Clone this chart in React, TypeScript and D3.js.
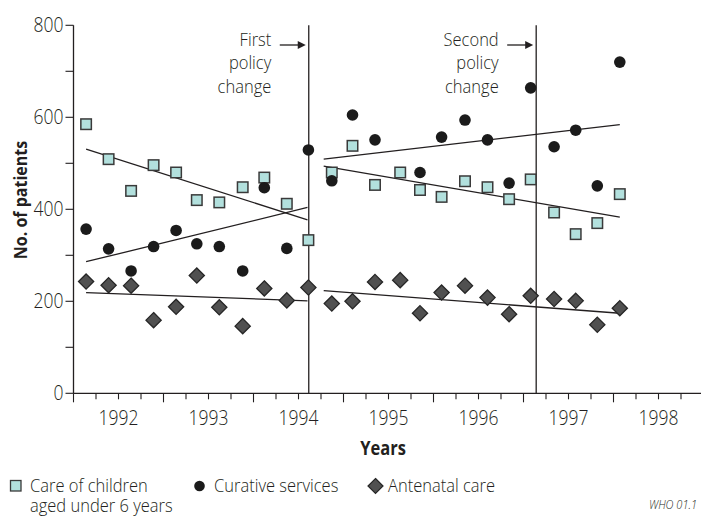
import React from "react";
import * as d3 from "d3";

// ---- data ----
const TIMES = [
  1992.14, 1992.39, 1992.64, 1992.89, 1993.14, 1993.37, 1993.62, 1993.88,
  1994.12, 1994.37, 1994.61, 1994.87, 1995.1, 1995.35, 1995.63, 1995.85,
  1996.09, 1996.35, 1996.6, 1996.84, 1997.08, 1997.34, 1997.58, 1997.82, 1998.07,
];
const CHILD_CARE = [
  585, 509, 440, 496, 480, 420, 415, 448, 469, 412, 333, 480, 538, 453, 480,
  442, 427, 461, 448, 422, 465, 393, 346, 370, 433,
];
const CURATIVE: (number | null)[] = [
  357, 314, 266, 319, 354, 325, 319, 266, 447, 315, 529, 462, 605, 551, null,
  480, 557, 594, 551, 457, 664, 536, 572, 451, 720,
];
const ANTENATAL = [
  243, 235, 234, 159, 188, 256, 187, 146, 228, 202, 230, 195, 200, 242, 246,
  174, 219, 234, 208, 172, 212, 205, 201, 149, 185,
];
// trend segments: [t0, v0, t1, v1]
const CHILD_TREND = [
  [1992.14, 531, 1994.6, 377],
  [1994.78, 494, 1998.07, 383],
];
const CURATIVE_TREND = [
  [1992.14, 286, 1994.6, 404],
  [1994.78, 509, 1998.07, 584],
];
const ANTENATAL_TREND = [
  [1992.14, 219, 1994.6, 201],
  [1994.78, 223, 1998.07, 174],
];
const POLICY_TIMES = [1994.614, 1997.141];
const POLICY_LABELS = [
  ["First", "policy", "change"],
  ["Second", "policy", "change"],
];
const YEARS = [1992, 1993, 1994, 1995, 1996, 1997, 1998];
const Y_LABEL_TICKS = [0, 200, 400, 600, 800];
const Y_MINOR_TICKS = [0, 100, 200, 300, 400, 500, 600, 700, 800];
const LEGEND = ["Care of children", "Curative services", "Antenatal care"];

const W = 701;
const H = 518;
const FONT = "'Open Sans', 'DejaVu Sans', sans-serif";
const INK = "#231f20";
const SQ_FILL = "#b2e0dd";
const SQ_STROKE = "#3a3a3a";
const DIA_FILL = "#505050";
const DIA_STROKE = "#262626";
const DOT_FILL = "#1b1b1b";
const STRETCH = 1.14;

function T(props: {
  x: number;
  y: number;
  size: number;
  anchor?: string;
  weight?: string | number;
  italic?: boolean;
  rotate?: number;
  children: React.ReactNode;
}) {
  const { x, y, size, anchor = "start", weight = 300, italic, rotate = 0, children } = props;
  return (
    <text
      transform={`translate(${x},${y}) rotate(${rotate}) scale(1,${STRETCH})`}
      textAnchor={anchor as any}
      fontSize={size}
      fontWeight={weight}
      fontStyle={italic ? "italic" : "normal"}
      fill={INK}
    >
      {children}
    </text>
  );
}

export default function App() {
  const x = d3.scaleLinear().domain([1992, 1999]).range([73.5, 703.5]);
  const y = d3.scaleLinear().domain([0, 800]).range([393.3, 25.3]);
  const quarters = d3.range(1992, 1999.001, 0.25);
  const line = d3
    .line<[number, number]>()
    .x((d) => x(d[0]))
    .y((d) => y(d[1]));
  const seg = (s: number[]) => line([[s[0], s[1]], [s[2], s[3]]]) || "";
  const sq = 10.5;
  const dia = 7.6;
  const diamondPath = (cx: number, cy: number, r: number) =>
    `M${cx},${cy - r}L${cx + r},${cy}L${cx},${cy + r}L${cx - r},${cy}Z`;

  return (
    <svg
      width={W}
      height={H}
      style={{ position: "absolute", left: 0, top: 0, background: "#fff" }}
      fontFamily={FONT}
    >
      {/* axes */}
      <line x1={x(1992)} x2={x(1992)} y1={y(800)} y2={y(0)} stroke={INK} strokeWidth={1.3} />
      <line x1={x(1992)} x2={W} y1={y(0)} y2={y(0)} stroke={INK} strokeWidth={1.3} />
      {Y_MINOR_TICKS.map((v) => (
        <line key={"yt" + v} x1={x(1992) - 8} x2={x(1992)} y1={y(v)} y2={y(v)} stroke={INK} strokeWidth={1.1} />
      ))}
      {Y_LABEL_TICKS.map((v) => (
        <T key={"yl" + v} x={x(1992) - 10} y={y(v) + 7} size={17.5} anchor="end">
          {v}
        </T>
      ))}
      {quarters.map((q) => {
        const major = Math.abs(q - Math.round(q)) < 1e-6;
        return (
          <line key={"xt" + q} x1={x(q)} x2={x(q)} y1={y(0)} y2={y(0) + (major ? 9 : 6)} stroke={INK} strokeWidth={1.1} />
        );
      })}
      {YEARS.map((yr) => (
        <T key={"xl" + yr} x={x(yr + 0.5)} y={425} size={17.5} anchor="middle">
          {yr}
        </T>
      ))}
      <T x={383} y={455} size={16.5} anchor="middle" weight="bold">
        Years
      </T>
      <T x={27} y={200} size={16} anchor="middle" weight="bold" rotate={-90}>
        No. of patients
      </T>

      {/* policy change lines and labels */}
      {POLICY_TIMES.map((t, i) => (
        <g key={"p" + i}>
          <line x1={x(t)} x2={x(t)} y1={y(800)} y2={y(0)} stroke={INK} strokeWidth={1.3} />
          {POLICY_LABELS[i].map((s, j) => (
            <T key={j} x={x(t) - 37.5} y={45.7 + j * 23.6} size={16.5} anchor="end">
              {s}
            </T>
          ))}
          <line x1={x(t) - 29} x2={x(t) - 10} y1={45} y2={45} stroke={INK} strokeWidth={1.3} />
          <path d={`M${x(t) - 3},45L${x(t) - 11},41L${x(t) - 11},49Z`} fill={INK} />
        </g>
      ))}

      {/* trend lines */}
      {[...CHILD_TREND, ...CURATIVE_TREND, ...ANTENATAL_TREND].map((s, i) => (
        <path key={"tr" + i} d={seg(s)} stroke={INK} strokeWidth={1.3} fill="none" />
      ))}

      {/* markers */}
      {CHILD_CARE.map((v, i) => (
        <rect key={"sq" + i} x={x(TIMES[i]) - sq / 2} y={y(v) - sq / 2} width={sq} height={sq} fill={SQ_FILL} stroke={SQ_STROKE} strokeWidth={1.5} />
      ))}
      {ANTENATAL.map((v, i) => (
        <path key={"di" + i} d={diamondPath(x(TIMES[i]), y(v), dia)} fill={DIA_FILL} stroke={DIA_STROKE} strokeWidth={1.3} />
      ))}
      {CURATIVE.map((v, i) =>
        v == null ? null : <circle key={"c" + i} cx={x(TIMES[i])} cy={y(v)} r={5.8} fill={DOT_FILL} />
      )}

      {/* legend */}
      <rect x={10.5} y={480.5} width={10.5} height={10.5} fill={SQ_FILL} stroke={SQ_STROKE} strokeWidth={1.3} />
      <T x={30} y={491.7} size={16.5}>{LEGEND[0]}</T>
      <T x={30} y={511.5} size={16.5}>aged under 6 years</T>
      <circle cx={199.5} cy={486} r={5.3} fill={DOT_FILL} />
      <T x={214} y={491.7} size={16.5}>{LEGEND[1]}</T>
      <path d={diamondPath(375.5, 486, 7.5)} fill={DIA_FILL} stroke={DIA_STROKE} strokeWidth={1.2} />
      <T x={388} y={491.7} size={16.5}>{LEGEND[2]}</T>
      <T x={697} y={509} size={11} anchor="end" italic>
        WHO 01.1
      </T>
    </svg>
  );
}
